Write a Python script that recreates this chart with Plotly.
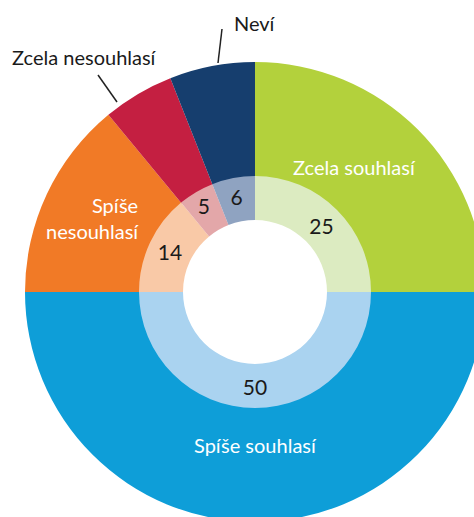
import plotly.graph_objects as go

# ---- data ----
categories = ["Zcela souhlasí", "Spíše souhlasí", "Spíše nesouhlasí", "Zcela nesouhlasí", "Neví"]
values = [25, 50, 14, 5, 6]
outer_colors = ["#B3D13C", "#0E9ED8", "#F17A26", "#C41F41", "#163E6E"]
inner_colors = ["#DCEBC1", "#AAD3F0", "#F9C9A7", "#E3A7A9", "#8FA3C1"]

W, H = 490, 530          # figure is a little larger than the window -> ring cropped right/bottom
CX, CY = 255, 292        # ring centre in pixels
R_OUT, R_MID, R_IN = 230, 116, 72
FONT = "Lato"


def px(x):
    return x / W


def py(y):
    return 1 - y / H


fig = go.Figure()

fig.add_trace(go.Pie(
    labels=categories, values=values, sort=False, direction="clockwise", rotation=0,
    hole=0.5, textinfo="none", hoverinfo="label+value",
    marker=dict(colors=outer_colors, line=dict(width=0)),
    domain=dict(x=[px(CX - R_OUT), px(CX + R_OUT)], y=[py(CY + R_OUT), py(CY - R_OUT)]),
    showlegend=False,
))

fig.add_trace(go.Pie(
    labels=categories, values=values, sort=False, direction="clockwise", rotation=0,
    hole=R_IN / R_MID, textinfo="value", textposition="inside",
    insidetextorientation="horizontal",
    textfont=dict(family=FONT, size=21, color="#1a1a1a"),
    marker=dict(colors=inner_colors, line=dict(width=0)),
    domain=dict(x=[px(CX - R_MID), px(CX + R_MID)], y=[py(CY + R_MID), py(CY - R_MID)]),
    showlegend=False,
))

label_pos = {
    "Zcela souhlasí": (354, 167, "center", "white"),
    "Spíše souhlasí": (255, 445, "center", "white"),
    "Spíše nesouhlasí": (141, 218, "right", "white"),
    "Zcela nesouhlasí": (84, 57, "center", "#1a1a1a"),
    "Neví": (255, 23, "center", "#1a1a1a"),
}
for cat in categories:
    x, y, al, col = label_pos[cat]
    txt = cat.replace(" ", "<br>") if cat == "Spíše nesouhlasí" else cat
    fig.add_annotation(
        x=px(x), y=py(y), xref="paper", yref="paper", text=txt, showarrow=False,
        xanchor=al, yanchor="middle", align=al,
        font=dict(family=FONT, size=20, color=col),
    )

for (x0, y0, x1, y1) in [(222, 29, 218, 63), (98, 75, 117, 102)]:
    fig.add_shape(type="line", xref="paper", yref="paper",
                  x0=px(x0), y0=py(y0), x1=px(x1), y1=py(y1),
                  line=dict(color="#222222", width=1.5))

fig.update_layout(
    width=W, height=H, margin=dict(l=0, r=0, t=0, b=0),
    paper_bgcolor="white", plot_bgcolor="white",
    uniformtext=dict(minsize=21, mode="show"),
)

fig.write_html(
    "out.html",
    config={"displayModeBar": False},
    post_script="document.documentElement.style.overflow='hidden';"
                "document.body.style.overflow='hidden';document.body.style.margin='0';",
)
